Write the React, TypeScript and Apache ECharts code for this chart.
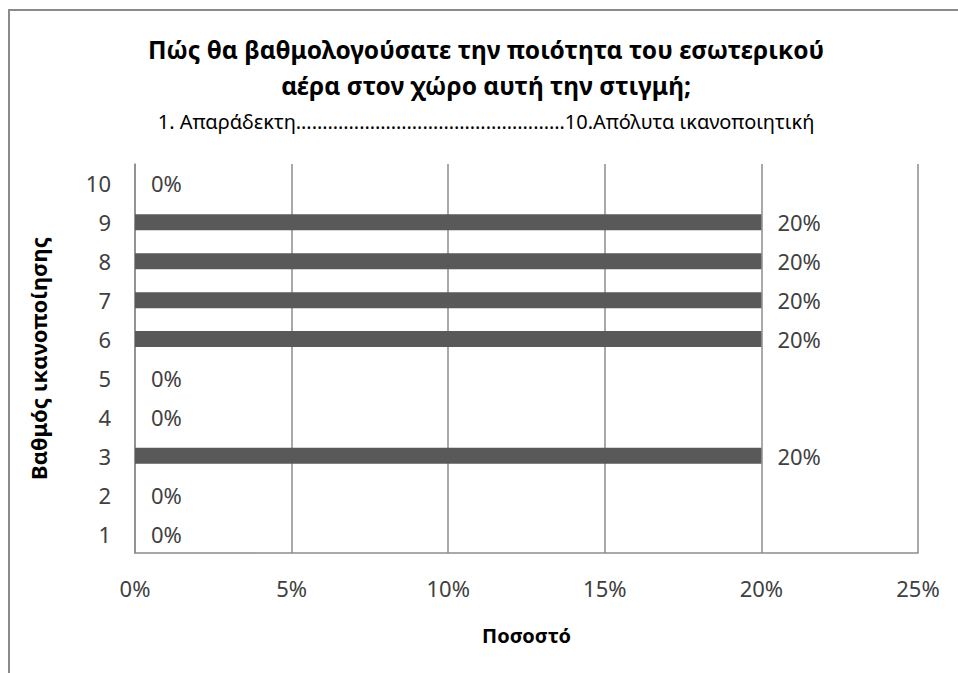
import React, { useEffect, useRef } from "react";
import * as echarts from "echarts";

const categories = ["1", "2", "3", "4", "5", "6", "7", "8", "9", "10"];
const percentValues = [0, 0, 20, 0, 0, 20, 20, 20, 20, 0];
const xTickValues = [0, 5, 10, 15, 20, 25];
const titleLines = [
  "Πώς θα βαθμολογούσατε την ποιότητα του εσωτερικού",
  "αέρα στον χώρο αυτή την στιγμή;",
];
const subtitleText = "1. Απαράδεκτη……………………………………………10.Απόλυτα ικανοποιητική";
const xAxisName = "Ποσοστό";
const yAxisName = "Βαθμός ικανοποίησης";

const FONT = "'Noto Sans', 'DejaVu Sans', sans-serif";

export default function App() {
  const ref = useRef<HTMLDivElement>(null);
  useEffect(() => {
    if (!ref.current) return;
    const chart = echarts.init(ref.current, null, { renderer: "svg" });
    chart.setOption({
      animation: false,
      backgroundColor: "#ffffff",
      textStyle: { fontFamily: FONT },
      title: [
        {
          text: titleLines.join("\n"),
          left: 481,
          top: 26,
          textAlign: "center",
          textStyle: {
            fontFamily: FONT,
            fontSize: 24.5,
            fontWeight: "bold",
            color: "#000000",
            lineHeight: 36,
          },
        },
        {
          text: subtitleText,
          left: 481,
          top: 102,
          textAlign: "center",
          textStyle: {
            fontFamily: FONT,
            fontSize: 20,
            fontWeight: "normal",
            color: "#000000",
            lineHeight: 28,
          },
        },
      ],
      graphic: [
        {
          type: "rect",
          shape: { x: 9, y: 10, width: 1200, height: 1200 },
          style: { fill: "none", stroke: "#8a8a8a", lineWidth: 2 },
          silent: true,
        },
      ],
      grid: { left: 135, right: 40, top: 164, bottom: 120, containLabel: false },
      xAxis: {
        type: "value",
        min: 0,
        max: 25,
        interval: 5,
        name: xAxisName,
        nameLocation: "middle",
        nameGap: 72,
        nameTextStyle: { fontFamily: FONT, fontSize: 20, fontWeight: "bold", color: "#000000" },
        axisLine: { show: true, lineStyle: { color: "#8c8c8c", width: 1.5 } },
        axisTick: { show: false },
        splitLine: { show: true, lineStyle: { color: "#8c8c8c", width: 1.5 } },
        axisLabel: {
          formatter: (v: number) => (xTickValues.includes(v) ? v + "%" : ""),
          fontSize: 22,
          color: "#404040",
          margin: 24,
          fontFamily: FONT,
        },
      },
      yAxis: {
        type: "category",
        data: categories,
        name: yAxisName,
        nameLocation: "middle",
        nameGap: 86,
        nameRotate: 90,
        nameTextStyle: { fontFamily: FONT, fontSize: 22, fontWeight: "bold", color: "#000000" },
        axisLine: { show: true, lineStyle: { color: "#8c8c8c", width: 1.5 } },
        axisTick: { show: false },
        splitLine: { show: false },
        axisLabel: { fontSize: 22, color: "#404040", margin: 24, fontFamily: FONT },
      },
      series: [
        {
          type: "bar",
          data: percentValues,
          barWidth: 16,
          itemStyle: { color: "#595959" },
          label: {
            show: true,
            position: "right",
            distance: 16,
            formatter: "{c}%",
            fontSize: 22,
            color: "#404040",
            fontFamily: FONT,
          },
        },
      ],
    });
    return () => chart.dispose();
  }, []);
  return (
    <div
      ref={ref}
      style={{ position: "absolute", left: 0, top: 0, width: 958, height: 673 }}
    />
  );
}
